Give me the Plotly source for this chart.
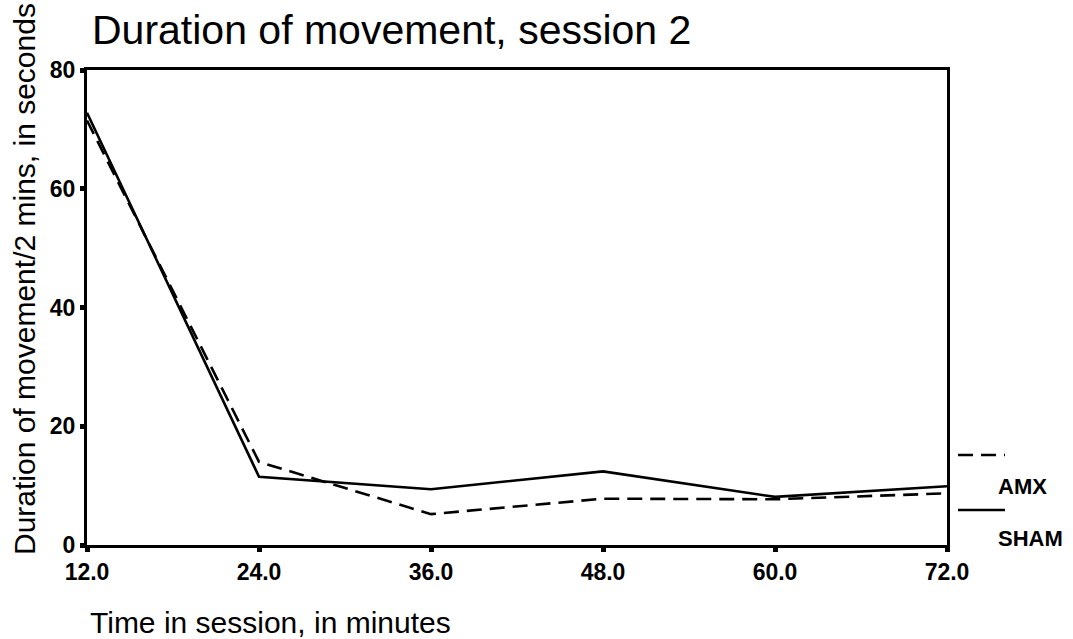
import plotly.graph_objects as go

time_min = [12, 24, 36, 48, 60, 72]
amx = [71.5, 14.0, 5.2, 7.8, 7.7, 8.7]
sham = [72.8, 11.5, 9.4, 12.4, 8.1, 9.9]
series_names = ["AMX", "SHAM"]
x_tick_vals = [12, 24, 36, 48, 60, 72]
x_tick_text = ["12.0", "24.0", "36.0", "48.0", "60.0", "72.0"]
y_tick_vals = [0, 20, 40, 60, 80]

W, H = 1073, 639
L, R, T, B = 87, 126, 70, 94
pw, ph = W - L - R, H - T - B

def px(xp):
    return (xp - L) / pw

def py(yp):
    return (H - B - yp) / ph

FONT = "Liberation Sans, Arial, sans-serif"
DASH = "15px,8px"

fig = go.Figure()
fig.add_trace(go.Scatter(x=time_min, y=amx, mode="lines", name=series_names[0],
                         line=dict(color="black", width=2.6, dash=DASH)))
fig.add_trace(go.Scatter(x=time_min, y=sham, mode="lines", name=series_names[1],
                         line=dict(color="black", width=2.6)))

axis_common = dict(showgrid=False, zeroline=False, showline=True, linecolor="black",
                   linewidth=3, mirror=True, ticks="outside", ticklen=4, tickwidth=5,
                   tickcolor="black",
                   tickfont=dict(family=FONT, size=23, color="black", weight="bold"))

fig.update_xaxes(range=[12, 72], tickvals=x_tick_vals, ticktext=x_tick_text, **axis_common)
fig.update_yaxes(range=[0, 80], tickvals=y_tick_vals, **axis_common)

# legend drawn manually to the right of the plot
fig.add_shape(type="line", xref="paper", yref="paper", x0=px(958), x1=px(1005),
              y0=py(455), y1=py(455), line=dict(color="black", width=2.6, dash=DASH))
fig.add_shape(type="line", xref="paper", yref="paper", x0=px(958), x1=px(1005),
              y0=py(510), y1=py(510), line=dict(color="black", width=2.6))
fig.add_annotation(text=series_names[0], xref="paper", yref="paper", x=px(996), y=py(486),
                   xanchor="left", yanchor="middle", showarrow=False,
                   font=dict(family=FONT, size=22, color="black", weight="bold"))
fig.add_annotation(text=series_names[1], xref="paper", yref="paper", x=px(996), y=py(538),
                   xanchor="left", yanchor="middle", showarrow=False,
                   font=dict(family=FONT, size=22, color="black", weight="bold"))

# titles
fig.add_annotation(text="Duration of movement, session 2", xref="paper", yref="paper",
                   x=px(90), y=py(30), xanchor="left", yanchor="middle", showarrow=False,
                   font=dict(family=FONT, size=41, color="black"))
fig.add_annotation(text="Duration of movement/2 mins, in seconds", xref="paper", yref="paper",
                   x=px(24), y=py(279), xanchor="center", yanchor="middle", textangle=-90,
                   showarrow=False, font=dict(family=FONT, size=30, color="black"))
fig.add_annotation(text="Time in session, in minutes", xref="paper", yref="paper",
                   x=px(88), y=py(622), xanchor="left", yanchor="middle", showarrow=False,
                   font=dict(family=FONT, size=30, color="black"))

fig.update_layout(width=W, height=H, margin=dict(l=L, r=R, t=T, b=B),
                  paper_bgcolor="white", plot_bgcolor="white", showlegend=False)

fig.write_html("out.html")
